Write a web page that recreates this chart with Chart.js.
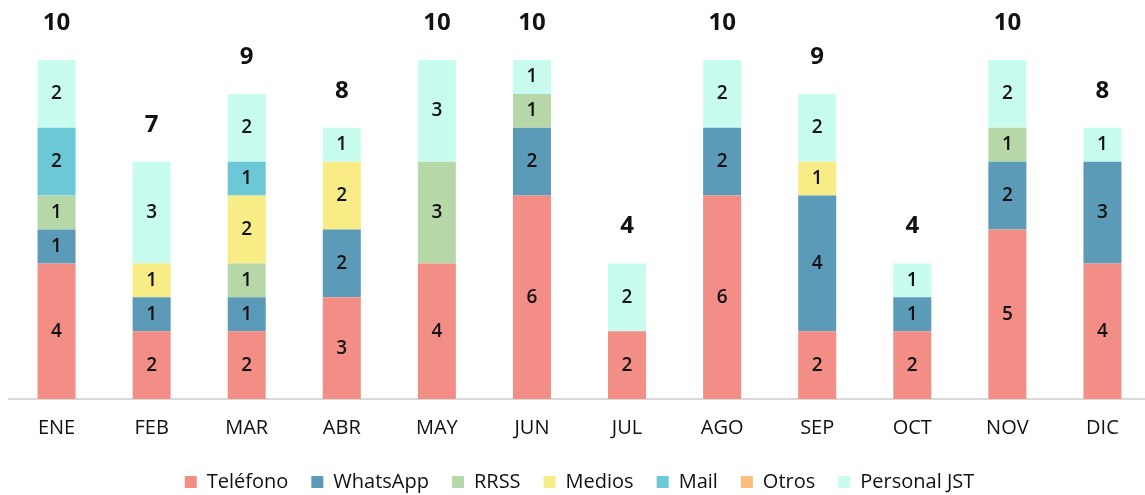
<!DOCTYPE html>
<html>
<head>
<meta charset="utf-8">
<script src="https://cdn.jsdelivr.net/npm/chart.js@4"></script>
<style>
html,body{margin:0;padding:0;background:#fff;overflow:hidden;}
#wrap{width:1150px;height:495px;position:relative;}
</style>
</head>
<body>
<div id="wrap"><canvas id="c" width="1150" height="495"></canvas></div>
<script>
const categories = ['ENE','FEB','MAR','ABR','MAY','JUN','JUL','AGO','SEP','OCT','NOV','DIC'];
const seriesNames = ['Teléfono','WhatsApp','RRSS','Medios','Mail','Otros','Personal JST'];
const telefono  = [4,2,2,3,4,6,2,6,2,2,5,4];
const whatsapp  = [1,1,1,2,0,2,0,2,4,1,2,3];
const rrss      = [1,0,1,0,3,1,0,0,0,0,1,0];
const medios    = [0,1,2,2,0,0,0,0,1,0,0,0];
const mail      = [2,0,1,0,0,0,0,0,0,0,0,0];
const otros     = [0,0,0,0,0,0,0,0,0,0,0,0];
const personal  = [2,3,2,1,3,1,2,2,2,1,2,1];
const colors = ['#F28E86','#5B9BB8','#B6D7A8','#F8EC86','#6CC8D6','#F8BF7B','#C8FCEF'];

const seriesData = [telefono, whatsapp, rrss, medios, mail, otros, personal];
const FONT = "'Open Sans', 'Noto Sans', sans-serif";

const labelPlugin = {
  id: 'labels',
  afterDatasetsDraw(chart) {
    const ctx = chart.ctx;
    ctx.save();
    ctx.textAlign = 'center';
    ctx.textBaseline = 'middle';
    ctx.fillStyle = '#111';
    chart.data.datasets.forEach((ds, i) => {
      const meta = chart.getDatasetMeta(i);
      meta.data.forEach((bar, j) => {
        const v = ds.data[j];
        if (!v) return;
        ctx.font = '600 19px ' + FONT;
        ctx.fillText(String(v), bar.x, (bar.y + bar.base) / 2);
      });
    });
    const ys = chart.scales.y;
    const xs = chart.scales.x;
    categories.forEach((c, j) => {
      let tot = 0;
      seriesData.forEach(s => tot += s[j]);
      ctx.font = '700 24px ' + FONT;
      ctx.fillText(String(tot), xs.getPixelForValue(j), ys.getPixelForValue(tot) - 37);
    });
    ctx.restore();
  }
};

new Chart(document.getElementById('c'), {
  type: 'bar',
  data: {
    labels: categories,
    datasets: seriesNames.map((n, i) => ({
      label: n,
      data: seriesData[i],
      backgroundColor: colors[i],
      borderWidth: 0,
      barPercentage: 0.8,
      categoryPercentage: 0.5
    }))
  },
  options: {
    responsive: false,
    animation: false,
    layout: { padding: { top: 60, left: 9, right: 0, bottom: -7 } },
    scales: {
      x: {
        stacked: true,
        grid: { display: false, drawTicks: false },
        border: { display: true, color: '#d9d9d9', width: 2 },
        ticks: { color: '#111', font: { family: FONT, size: 20 }, padding: 17 },
        afterFit(scale) { scale.height -= 8; }
      },
      y: {
        stacked: true,
        display: false,
        min: 0,
        max: 10
      }
    },
    plugins: {
      legend: {
        position: 'bottom',
        labels: {
          color: '#111',
          boxWidth: 12,
          boxHeight: 12,
          padding: 23,
          font: { family: FONT, size: 20 }
        }
      },
      tooltip: { enabled: false }
    }
  },
  plugins: [labelPlugin]
});
</script>
</body>
</html>
